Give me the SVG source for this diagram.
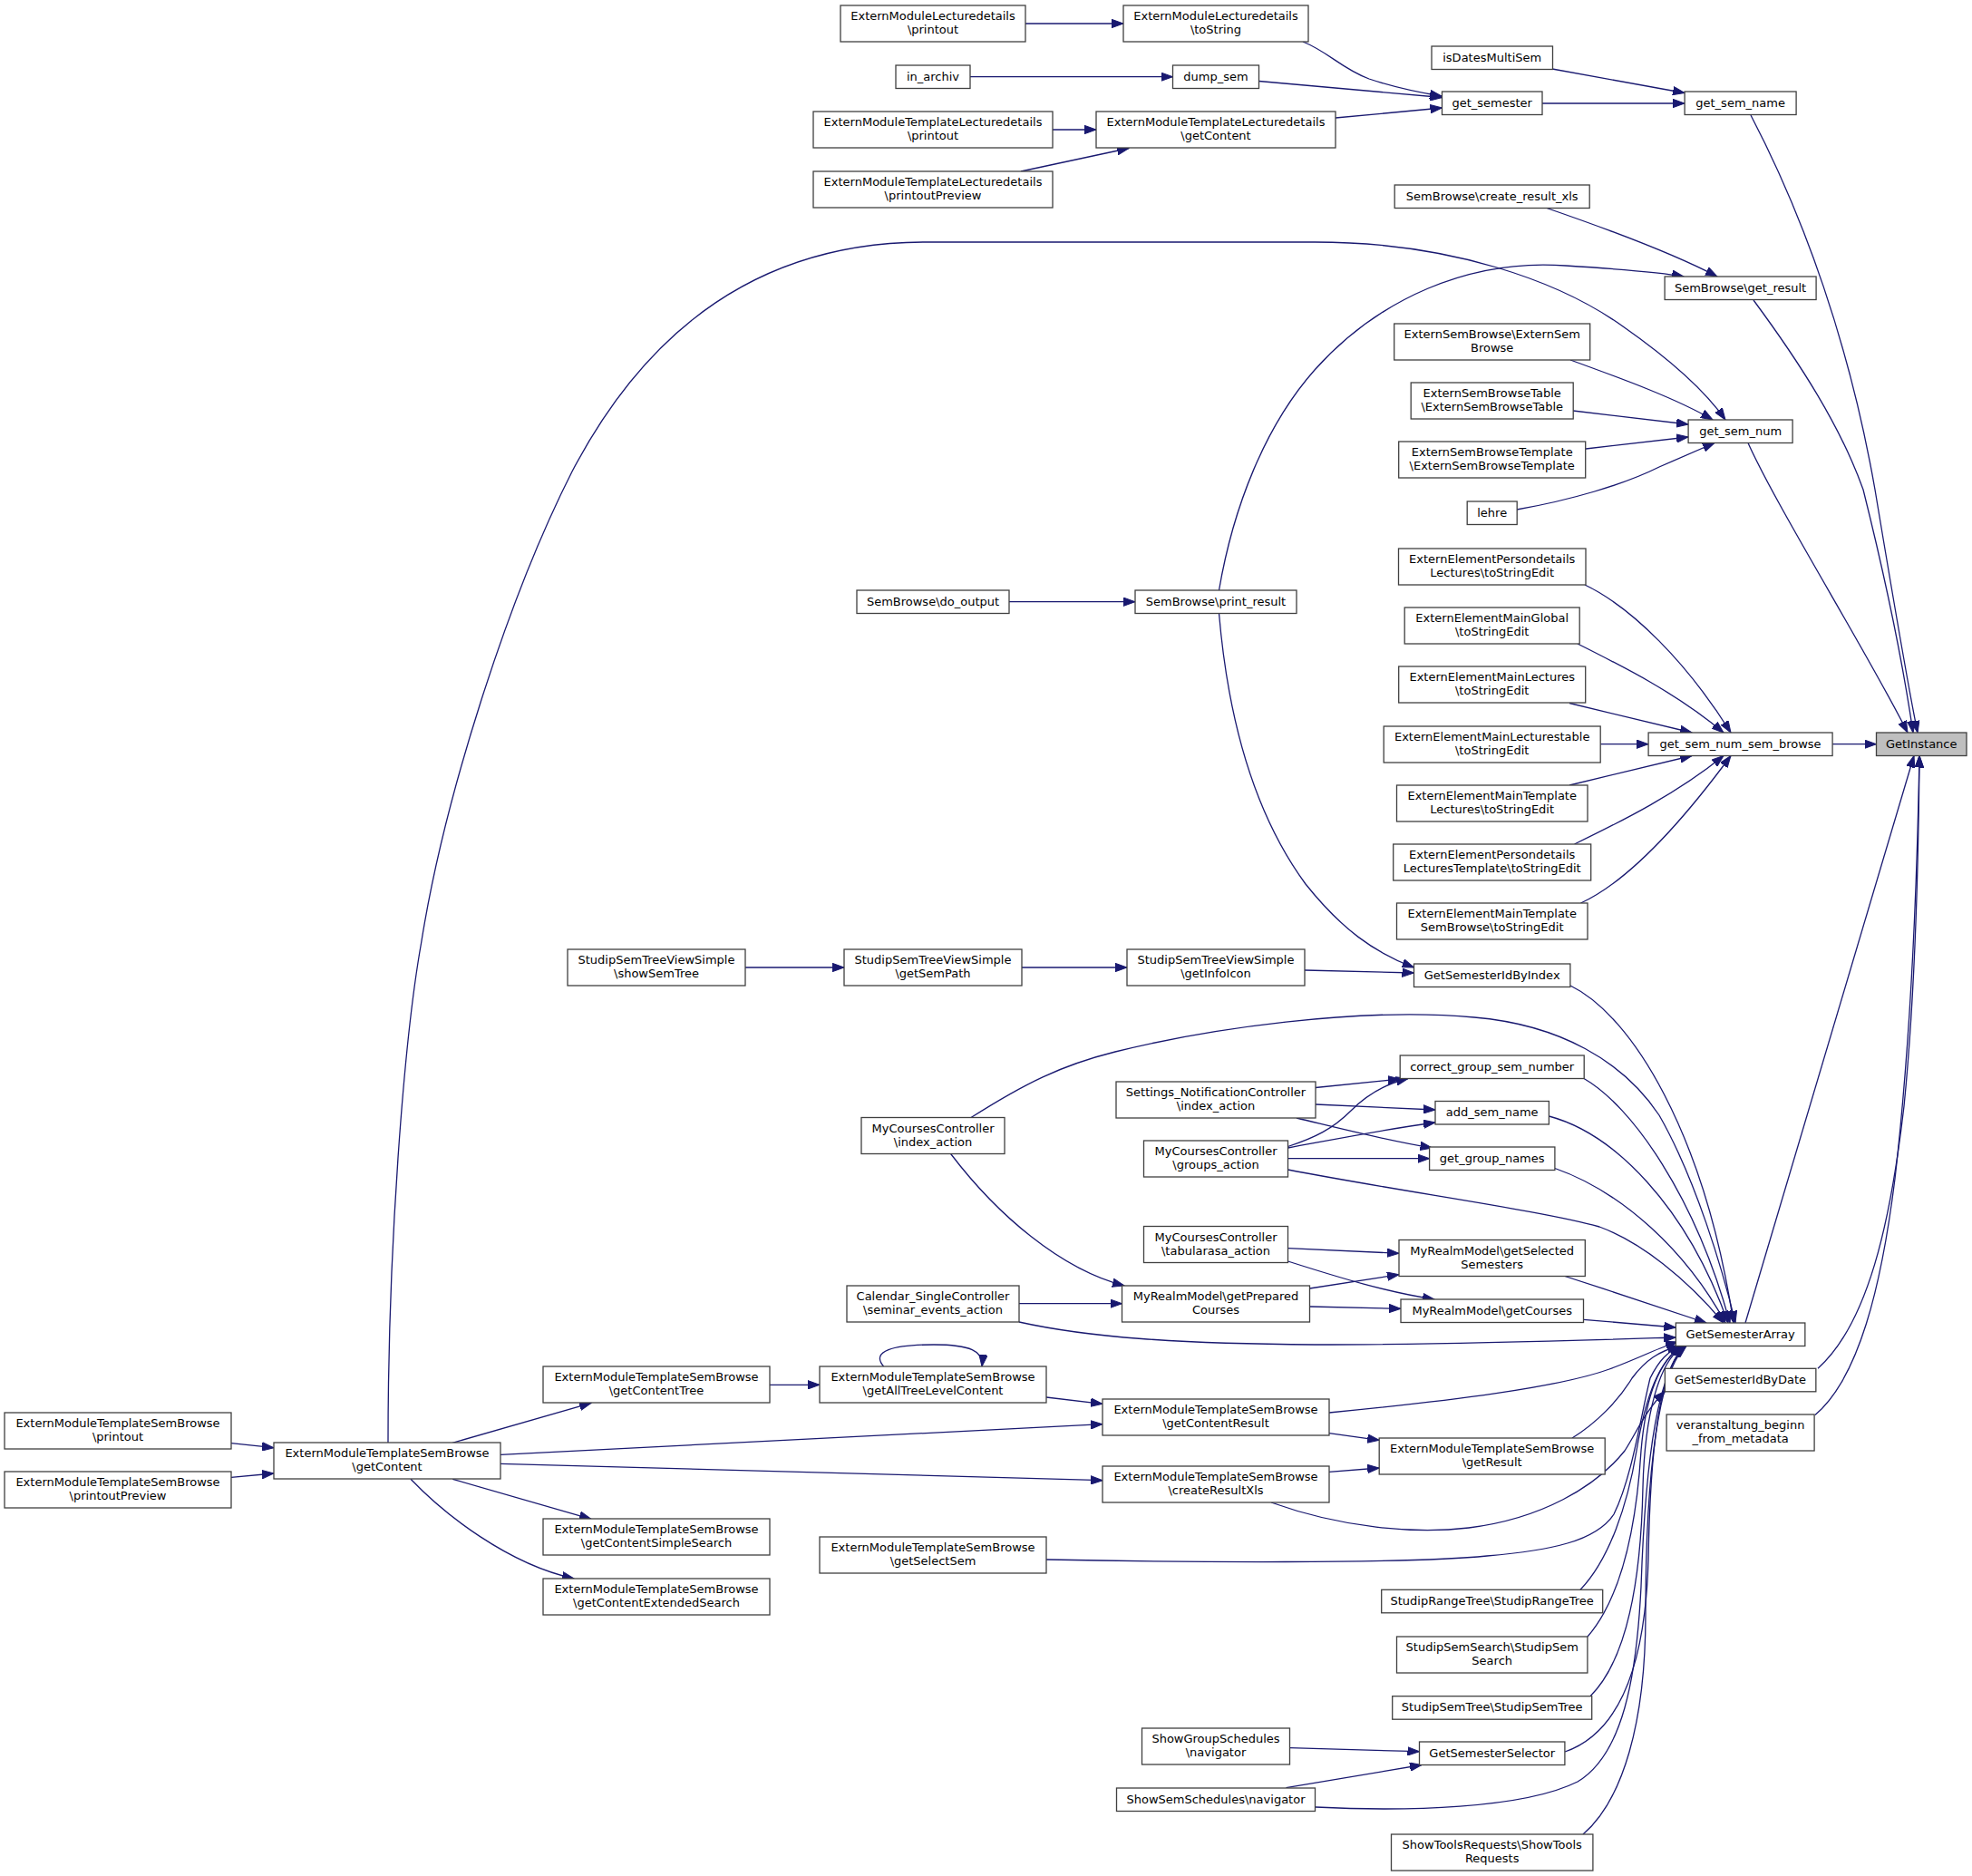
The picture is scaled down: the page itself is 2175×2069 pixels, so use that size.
<svg xmlns="http://www.w3.org/2000/svg" width="2175" height="2069" viewBox="0 0 2175 2069">
<style>
.n rect{fill:#fff;stroke:#404040;stroke-width:1.3}
.n text{font-family:"DejaVu Sans",sans-serif;font-size:13px;text-anchor:middle;fill:#000}
.root rect{fill:#bfbfbf}
.e path{fill:none;stroke:#191970;stroke-width:1.3;marker-end:url(#ah)}
</style>
<defs>
<marker id="ah" markerUnits="userSpaceOnUse" markerWidth="14" markerHeight="10" refX="13" refY="5" orient="auto" viewBox="0 0 14 10"><path d="M0,0.3 L13,5 L0,9.7 z" fill="#191970" stroke="#191970" stroke-width="1"/></marker>
</defs>
<rect width="2175" height="2069" fill="#fff"/>
<g id="edges" class="e">
<path d="M1131,26 L1239,26"/>
<path d="M1437,46 C1465,57 1480,76 1510,87 C1540,97 1565,102 1590,106"/>
<path d="M1070,84.7 L1293.5,84.7"/>
<path d="M1388.5,89.5 L1590.5,107.5"/>
<path d="M1161,143 L1209,143"/>
<path d="M1126,189 L1245,163.5"/>
<path d="M1473,130 L1590.5,119"/>
<path d="M1712,76 L1858,102.5"/>
<path d="M1701,114 L1858,114"/>
<path d="M1931,127 C1990,240 2040,380 2068,540 C2088,660 2105,760 2115,808"/>
<path d="M1706,229.5 C1780,255 1850,282 1894,305"/>
<path d="M1344.5,651 C1360,560 1395,470 1450,408 C1520,330 1620,285 1727,293 C1790,297 1830,300 1857,305"/>
<path d="M1934,331 C1985,400 2030,470 2055,540 C2080,640 2100,740 2110,808"/>
<path d="M428,1591 C428,1380 445,1150 464.6,1040 C490,880 560,660 631,520 C720,350 850,267 1021,267 L1450,267 C1600,267 1720,310 1790,360 C1840,395 1880,430 1903,463"/>
<path d="M1732,397 C1790,418 1850,440 1889,463"/>
<path d="M1735,453 L1862,468"/>
<path d="M1749,495 L1862,482"/>
<path d="M1673,562 C1730,552 1790,535 1830,515 C1860,502 1878,494 1891,488.5"/>
<path d="M1928,488.5 C1960,560 2060,720 2104,808"/>
<path d="M1113,663.7 L1252,663.7"/>
<path d="M1748,645 C1800,670 1860,730 1909,808"/>
<path d="M1740,710 C1790,735 1850,765 1901,808"/>
<path d="M1731,775.5 L1866,808"/>
<path d="M1765,820.7 L1818,820.7"/>
<path d="M1731,866 L1866,833.5"/>
<path d="M1736.5,931 C1790,905 1850,875 1901,833.5"/>
<path d="M1743.5,996 C1800,970 1860,900 1909,833.5"/>
<path d="M2021,820.7 L2069.5,820.7"/>
<path d="M1925,1459 L2111,833.5"/>
<path d="M2005,1509.3 C2060,1460 2085,1350 2100,1220 C2112,1100 2116,950 2117,833.5"/>
<path d="M2002,1560.5 C2050,1520 2075,1420 2090,1300 C2105,1170 2114,1000 2117,833.5"/>
<path d="M822,1067 L931,1067"/>
<path d="M1127,1067 L1243,1067"/>
<path d="M1439,1070 L1559.5,1073"/>
<path d="M1344.5,676.5 C1355,800 1385,900 1440,975 C1480,1025 1515,1050 1559.5,1067"/>
<path d="M1732,1087 C1800,1120 1880,1250 1912,1459"/>
<path d="M1071,1232.5 C1130,1195 1170,1175 1230,1160 C1330,1135 1500,1110 1626,1122 C1720,1130 1790,1170 1830,1230 C1870,1300 1900,1400 1914,1459"/>
<path d="M1451,1199.5 L1544,1190"/>
<path d="M1451,1218 L1583,1224"/>
<path d="M1430,1233 C1480,1245 1530,1258 1579.5,1266"/>
<path d="M1420.5,1264.5 C1450,1255 1470,1245 1490,1225 C1505,1210 1525,1196 1553,1189.5"/>
<path d="M1420.5,1266 C1480,1255 1530,1245 1583,1238"/>
<path d="M1420.5,1277.7 L1576.6,1277.7"/>
<path d="M1420.5,1290 C1550,1315 1700,1335 1764,1353 C1810,1370 1860,1410 1901,1459"/>
<path d="M1747,1189.5 C1800,1220 1870,1320 1908,1459"/>
<path d="M1708.4,1231 C1780,1250 1860,1330 1906,1459"/>
<path d="M1715,1288.5 C1790,1315 1860,1380 1903,1459"/>
<path d="M1048.6,1272.5 C1100,1340 1170,1400 1240,1418"/>
<path d="M1420.5,1376.7 L1543,1382.3"/>
<path d="M1420.5,1391 C1480,1410 1530,1425 1582,1433"/>
<path d="M1444.5,1421 L1543,1405.7"/>
<path d="M1444.5,1441 L1545,1443.3"/>
<path d="M1124,1437.7 L1237.5,1437.7"/>
<path d="M1124,1458 C1200,1475 1300,1482 1450,1483 C1600,1483 1750,1478 1848.3,1475"/>
<path d="M1726,1407.5 C1780,1425 1840,1445 1882,1459"/>
<path d="M1746.5,1455.3 L1848.3,1464"/>
<path d="M974.6,1507 C960,1490 985,1483 1030,1483 C1070,1483 1085,1490 1083,1507"/>
<path d="M849,1527.3 L904,1527.3"/>
<path d="M1154,1541 L1216,1548.3"/>
<path d="M1466,1558 C1600,1545 1720,1530 1775,1510 C1810,1497 1830,1486 1850,1480"/>
<path d="M1466,1580.7 L1521.2,1588.3"/>
<path d="M499,1591.3 L652,1547.3"/>
<path d="M552,1604.3 L1216,1570.7"/>
<path d="M552,1614.3 L1216,1632.7"/>
<path d="M499.3,1631.3 L652,1675.3"/>
<path d="M453,1631.3 C490,1670 560,1725 633,1741"/>
<path d="M255,1591.7 L302,1596.7"/>
<path d="M255,1629.3 L302,1625"/>
<path d="M1466,1623.3 L1521.2,1619"/>
<path d="M1402,1657 C1480,1685 1560,1692 1620,1685 C1700,1675 1760,1640 1792,1600 C1805,1580 1815,1555 1836.4,1534.5"/>
<path d="M1734,1586 C1760,1570 1785,1545 1800,1520 C1815,1500 1830,1490 1852,1484.5"/>
<path d="M1154,1720 C1300,1723 1550,1725 1640,1716 C1710,1710 1760,1700 1780,1670 C1800,1630 1810,1560 1820,1520 C1830,1500 1840,1490 1854,1484.5"/>
<path d="M1743,1753.3 C1775,1720 1795,1660 1805,1600 C1815,1540 1830,1500 1855,1484.5"/>
<path d="M1751,1805 C1790,1760 1805,1680 1810,1600 C1815,1540 1830,1500 1856,1484.5"/>
<path d="M1754,1870.7 C1795,1830 1810,1740 1812,1640 C1814,1560 1830,1500 1857,1484.5"/>
<path d="M1726,1932 C1790,1910 1815,1830 1818,1720 C1820,1600 1830,1510 1858,1484.5"/>
<path d="M1422.5,1927.7 L1565.5,1931.7"/>
<path d="M1418.5,1971.7 L1568,1946.5"/>
<path d="M1451,1993 C1550,1998 1680,1995 1740,1965 C1790,1935 1805,1850 1810,1750 C1815,1600 1830,1510 1859,1484.5"/>
<path d="M1746,2023 C1790,1985 1815,1900 1815,1780 C1815,1620 1830,1510 1860,1484.5"/>
</g>
<g id="n_GetInstance" class="n root"><rect x="2069.5" y="808" width="99.5" height="25.5"/><text x="2119.25" y="824.7">GetInstance</text></g>
<g id="n_get_sem_name" class="n"><rect x="1858.1" y="101" width="123" height="25.5"/><text x="1919.6" y="117.7">get_sem_name</text></g>
<g id="n_get_result" class="n"><rect x="1836.1" y="305" width="167" height="25.5"/><text x="1919.6" y="321.7">SemBrowse\get_result</text></g>
<g id="n_get_sem_num" class="n"><rect x="1862.1" y="463" width="115" height="25.5"/><text x="1919.6" y="479.7">get_sem_num</text></g>
<g id="n_get_sem_num_sem_browse" class="n"><rect x="1818.1" y="808" width="203" height="25.5"/><text x="1919.6" y="824.7">get_sem_num_sem_browse</text></g>
<g id="n_GetSemesterArray" class="n"><rect x="1848.35" y="1459" width="142.5" height="25.5"/><text x="1919.6" y="1475.7">GetSemesterArray</text></g>
<g id="n_GetSemesterIdByDate" class="n"><rect x="1836.35" y="1509.3" width="166.5" height="25.5"/><text x="1919.6" y="1526">GetSemesterIdByDate</text></g>
<g id="n_veranstaltung" class="n"><rect x="1838.1" y="1560" width="163" height="40"/><text x="1919.6" y="1576">veranstaltung_beginn</text><text x="1919.6" y="1591">_from_metadata</text></g>
<g id="n_isDatesMultiSem" class="n"><rect x="1579" y="51" width="133.5" height="25.5"/><text x="1645.7" y="67.7">isDatesMultiSem</text></g>
<g id="n_get_semester" class="n"><rect x="1590.5" y="101" width="110.5" height="25.5"/><text x="1645.7" y="117.7">get_semester</text></g>
<g id="n_create_result_xls" class="n"><rect x="1538.2" y="204" width="215" height="25.5"/><text x="1645.7" y="220.7">SemBrowse\create_result_xls</text></g>
<g id="n_ExternSemBrowse" class="n"><rect x="1537.7" y="357" width="216" height="40"/><text x="1645.7" y="373">ExternSemBrowse\ExternSem</text><text x="1645.7" y="388">Browse</text></g>
<g id="n_ExternSemBrowseTable" class="n"><rect x="1556.2" y="422" width="179" height="40"/><text x="1645.7" y="438">ExternSemBrowseTable</text><text x="1645.7" y="453">\ExternSemBrowseTable</text></g>
<g id="n_ExternSemBrowseTemplate" class="n"><rect x="1542.7" y="487" width="206" height="40"/><text x="1645.7" y="503">ExternSemBrowseTemplate</text><text x="1645.7" y="518">\ExternSemBrowseTemplate</text></g>
<g id="n_lehre" class="n"><rect x="1618.2" y="553" width="55" height="25.5"/><text x="1645.7" y="569.7">lehre</text></g>
<g id="n_EEPL" class="n"><rect x="1542.5" y="605" width="206.5" height="40"/><text x="1645.7" y="621">ExternElementPersondetails</text><text x="1645.7" y="636">Lectures\toStringEdit</text></g>
<g id="n_EEMGlobal" class="n"><rect x="1549.2" y="670" width="193" height="40"/><text x="1645.7" y="686">ExternElementMainGlobal</text><text x="1645.7" y="701">\toStringEdit</text></g>
<g id="n_EEMLectures" class="n"><rect x="1542.7" y="735" width="206" height="40"/><text x="1645.7" y="751">ExternElementMainLectures</text><text x="1645.7" y="766">\toStringEdit</text></g>
<g id="n_EEMLecturestable" class="n"><rect x="1526.2" y="801" width="239" height="40"/><text x="1645.7" y="817">ExternElementMainLecturestable</text><text x="1645.7" y="832">\toStringEdit</text></g>
<g id="n_EEMTLectures" class="n"><rect x="1540.5" y="866" width="210.5" height="40"/><text x="1645.7" y="882">ExternElementMainTemplate</text><text x="1645.7" y="897">Lectures\toStringEdit</text></g>
<g id="n_EEPLT" class="n"><rect x="1536.7" y="931" width="218" height="40"/><text x="1645.7" y="947">ExternElementPersondetails</text><text x="1645.7" y="962">LecturesTemplate\toStringEdit</text></g>
<g id="n_EEMTSB" class="n"><rect x="1540.5" y="996" width="210.5" height="40"/><text x="1645.7" y="1012">ExternElementMainTemplate</text><text x="1645.7" y="1027">SemBrowse\toStringEdit</text></g>
<g id="n_GetSemesterIdByIndex" class="n"><rect x="1559.5" y="1063" width="172.4" height="25.5"/><text x="1645.7" y="1079.7">GetSemesterIdByIndex</text></g>
<g id="n_correct_group_sem_number" class="n"><rect x="1544.2" y="1164" width="203" height="25.5"/><text x="1645.7" y="1180.7">correct_group_sem_number</text></g>
<g id="n_add_sem_name" class="n"><rect x="1583" y="1214.5" width="125.4" height="25.5"/><text x="1645.7" y="1231.2">add_sem_name</text></g>
<g id="n_get_group_names" class="n"><rect x="1576.6" y="1265" width="138.3" height="25.5"/><text x="1645.7" y="1281.7">get_group_names</text></g>
<g id="n_getSelectedSemesters" class="n"><rect x="1543" y="1367.5" width="205.3" height="40"/><text x="1645.7" y="1383.5">MyRealmModel\getSelected</text><text x="1645.7" y="1398.5">Semesters</text></g>
<g id="n_getCourses" class="n"><rect x="1545" y="1433" width="201.5" height="25.5"/><text x="1645.7" y="1449.7">MyRealmModel\getCourses</text></g>
<g id="n_getResult" class="n"><rect x="1521.2" y="1586" width="249" height="40"/><text x="1645.7" y="1602">ExternModuleTemplateSemBrowse</text><text x="1645.7" y="1617">\getResult</text></g>
<g id="n_StudipRangeTree" class="n"><rect x="1523.7" y="1753.3" width="244" height="25.5"/><text x="1645.7" y="1770">StudipRangeTree\StudipRangeTree</text></g>
<g id="n_StudipSemSearch" class="n"><rect x="1540.5" y="1805" width="210.4" height="40"/><text x="1645.7" y="1821">StudipSemSearch\StudipSem</text><text x="1645.7" y="1836">Search</text></g>
<g id="n_StudipSemTree" class="n"><rect x="1535.7" y="1870.7" width="220" height="25.5"/><text x="1645.7" y="1887.4">StudipSemTree\StudipSemTree</text></g>
<g id="n_GetSemesterSelector" class="n"><rect x="1565.5" y="1921" width="160.4" height="25.5"/><text x="1645.7" y="1937.7">GetSemesterSelector</text></g>
<g id="n_ShowToolsRequests" class="n"><rect x="1534.5" y="2023" width="222.4" height="40"/><text x="1645.7" y="2039">ShowToolsRequests\ShowTools</text><text x="1645.7" y="2054">Requests</text></g>
<g id="n_EMLd_toString" class="n"><rect x="1239" y="6" width="204" height="40"/><text x="1341" y="22">ExternModuleLecturedetails</text><text x="1341" y="37">\toString</text></g>
<g id="n_dump_sem" class="n"><rect x="1293.5" y="72" width="95" height="25.5"/><text x="1341" y="88.7">dump_sem</text></g>
<g id="n_EMTLd_getContent" class="n"><rect x="1209" y="123" width="264" height="40"/><text x="1341" y="139">ExternModuleTemplateLecturedetails</text><text x="1341" y="154">\getContent</text></g>
<g id="n_print_result" class="n"><rect x="1252" y="651" width="178" height="25.5"/><text x="1341" y="667.7">SemBrowse\print_result</text></g>
<g id="n_getInfoIcon" class="n"><rect x="1243" y="1047" width="196" height="40"/><text x="1341" y="1063">StudipSemTreeViewSimple</text><text x="1341" y="1078">\getInfoIcon</text></g>
<g id="n_Settings" class="n"><rect x="1231" y="1193" width="220" height="40"/><text x="1341" y="1209">Settings_NotificationController</text><text x="1341" y="1224">\index_action</text></g>
<g id="n_MC_groups" class="n"><rect x="1261.5" y="1258" width="159" height="40"/><text x="1341" y="1274">MyCoursesController</text><text x="1341" y="1289">\groups_action</text></g>
<g id="n_MC_tabularasa" class="n"><rect x="1261.5" y="1352.5" width="159" height="40"/><text x="1341" y="1368.5">MyCoursesController</text><text x="1341" y="1383.5">\tabularasa_action</text></g>
<g id="n_getPreparedCourses" class="n"><rect x="1237.5" y="1418" width="207" height="40"/><text x="1341" y="1434">MyRealmModel\getPrepared</text><text x="1341" y="1449">Courses</text></g>
<g id="n_getContentResult" class="n"><rect x="1216" y="1543" width="250" height="40"/><text x="1341" y="1559">ExternModuleTemplateSemBrowse</text><text x="1341" y="1574">\getContentResult</text></g>
<g id="n_createResultXls" class="n"><rect x="1216" y="1617" width="250" height="40"/><text x="1341" y="1633">ExternModuleTemplateSemBrowse</text><text x="1341" y="1648">\createResultXls</text></g>
<g id="n_ShowGroupSchedules" class="n"><rect x="1259.5" y="1906" width="163" height="40"/><text x="1341" y="1922">ShowGroupSchedules</text><text x="1341" y="1937">\navigator</text></g>
<g id="n_ShowSemSchedules" class="n"><rect x="1231.5" y="1972" width="219" height="25.5"/><text x="1341" y="1988.7">ShowSemSchedules\navigator</text></g>
<g id="n_EMLd_printout" class="n"><rect x="927" y="6" width="204" height="40"/><text x="1029" y="22">ExternModuleLecturedetails</text><text x="1029" y="37">\printout</text></g>
<g id="n_in_archiv" class="n"><rect x="988" y="72" width="82" height="25.5"/><text x="1029" y="88.7">in_archiv</text></g>
<g id="n_EMTLd_printout" class="n"><rect x="897" y="123" width="264" height="40"/><text x="1029" y="139">ExternModuleTemplateLecturedetails</text><text x="1029" y="154">\printout</text></g>
<g id="n_EMTLd_printoutPreview" class="n"><rect x="897" y="189" width="264" height="40"/><text x="1029" y="205">ExternModuleTemplateLecturedetails</text><text x="1029" y="220">\printoutPreview</text></g>
<g id="n_do_output" class="n"><rect x="945" y="651" width="168" height="25.5"/><text x="1029" y="667.7">SemBrowse\do_output</text></g>
<g id="n_getSemPath" class="n"><rect x="931" y="1047" width="196" height="40"/><text x="1029" y="1063">StudipSemTreeViewSimple</text><text x="1029" y="1078">\getSemPath</text></g>
<g id="n_MC_index" class="n"><rect x="950" y="1232.5" width="158" height="40"/><text x="1029" y="1248.5">MyCoursesController</text><text x="1029" y="1263.5">\index_action</text></g>
<g id="n_Calendar" class="n"><rect x="934" y="1418" width="190" height="40"/><text x="1029" y="1434">Calendar_SingleController</text><text x="1029" y="1449">\seminar_events_action</text></g>
<g id="n_getAllTreeLevelContent" class="n"><rect x="904" y="1507" width="250" height="40"/><text x="1029" y="1523">ExternModuleTemplateSemBrowse</text><text x="1029" y="1538">\getAllTreeLevelContent</text></g>
<g id="n_getSelectSem" class="n"><rect x="904" y="1695" width="250" height="40"/><text x="1029" y="1711">ExternModuleTemplateSemBrowse</text><text x="1029" y="1726">\getSelectSem</text></g>
<g id="n_showSemTree" class="n"><rect x="626" y="1047" width="196" height="40"/><text x="724" y="1063">StudipSemTreeViewSimple</text><text x="724" y="1078">\showSemTree</text></g>
<g id="n_getContentTree" class="n"><rect x="599" y="1507" width="250" height="40"/><text x="724" y="1523">ExternModuleTemplateSemBrowse</text><text x="724" y="1538">\getContentTree</text></g>
<g id="n_getContentSimpleSearch" class="n"><rect x="599" y="1675" width="250" height="40"/><text x="724" y="1691">ExternModuleTemplateSemBrowse</text><text x="724" y="1706">\getContentSimpleSearch</text></g>
<g id="n_getContentExtendedSearch" class="n"><rect x="599" y="1741" width="250" height="40"/><text x="724" y="1757">ExternModuleTemplateSemBrowse</text><text x="724" y="1772">\getContentExtendedSearch</text></g>
<g id="n_getContent" class="n"><rect x="302" y="1591" width="250" height="40"/><text x="427" y="1607">ExternModuleTemplateSemBrowse</text><text x="427" y="1622">\getContent</text></g>
<g id="n_EMTSB_printout" class="n"><rect x="5" y="1558" width="250" height="40"/><text x="130" y="1574">ExternModuleTemplateSemBrowse</text><text x="130" y="1589">\printout</text></g>
<g id="n_EMTSB_printoutPreview" class="n"><rect x="5" y="1623" width="250" height="40"/><text x="130" y="1639">ExternModuleTemplateSemBrowse</text><text x="130" y="1654">\printoutPreview</text></g>
</svg>
